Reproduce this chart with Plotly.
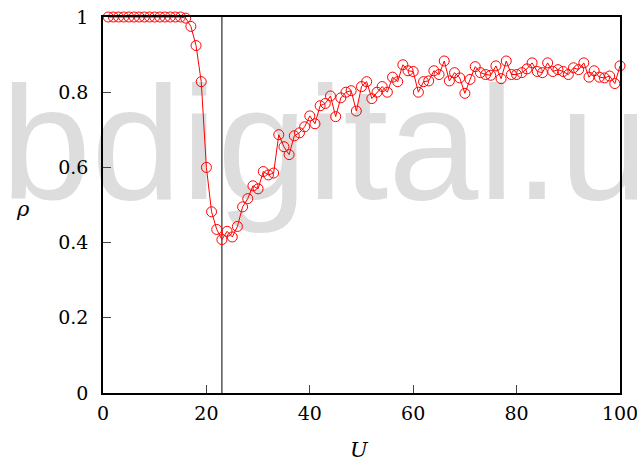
import plotly.graph_objects as go

U = list(range(1, 101))
rho = [1.0]*15 + [
    0.997, 0.975, 0.924, 0.828, 0.600, 0.482, 0.435, 0.408, 0.430, 0.415,
    0.443, 0.495, 0.517, 0.551, 0.543, 0.589, 0.580, 0.585, 0.687, 0.655,
    0.634, 0.684, 0.692, 0.708, 0.737, 0.716, 0.764, 0.770, 0.790, 0.735,
    0.785, 0.800, 0.804, 0.750, 0.815, 0.828, 0.783, 0.800, 0.815, 0.800,
    0.840, 0.828, 0.873, 0.857, 0.855, 0.800, 0.828, 0.830, 0.857, 0.847,
    0.883, 0.830, 0.852, 0.838, 0.797, 0.834, 0.868, 0.852, 0.847, 0.845,
    0.870, 0.836, 0.883, 0.847, 0.847, 0.852, 0.862, 0.878, 0.855, 0.852,
    0.878, 0.855, 0.860, 0.855, 0.847, 0.865, 0.860, 0.878, 0.840, 0.857,
    0.840, 0.838, 0.843, 0.823, 0.870]
vline_x = 23
x_ticks = [0, 20, 40, 60, 80, 100]
y_ticks = [0, 0.2, 0.4, 0.6, 0.8, 1]
y_ticktext = ["0", "0.2", "0.4", "0.6", "0.8", "1"]
watermark = "bdigital.u"

serif = "DejaVu Serif"
sans = "Liberation Sans, Arial, DejaVu Sans, sans-serif"

fig = go.Figure()
fig.add_trace(go.Scatter(
    x=[43.0], y=[0.625], mode="text", text=[watermark],
    textposition="middle center", cliponaxis=False,
    textfont=dict(family=sans, size=162, color="#dddddd"),
    hoverinfo="skip", showlegend=False))
fig.add_trace(go.Scatter(
    x=[vline_x, vline_x], y=[0, 1], mode="lines",
    line=dict(color="black", width=1), hoverinfo="skip", showlegend=False))
fig.add_trace(go.Scatter(
    x=U, y=rho, mode="lines+markers", cliponaxis=False,
    line=dict(color="red", width=1),
    marker=dict(symbol="circle-open", size=10, color="red", line=dict(width=1)),
    showlegend=False))

fig.update_layout(
    width=637, height=462,
    margin=dict(l=103, r=17, t=17, b=69, autoexpand=False),
    paper_bgcolor="white", plot_bgcolor="rgba(0,0,0,0)",
    font=dict(family=serif, size=19, color="black"),
)
fig.update_xaxes(range=[0, 100], tickvals=x_ticks, ticks="inside", ticklen=8,
                 tickwidth=1, showline=True, linecolor="black", linewidth=1.5,
                 mirror=True, showgrid=False, zeroline=False, automargin=False,
                 ticklabelstandoff=2, ticklabeloverflow="allow",
                 tickfont=dict(family=serif, size=19))
fig.update_yaxes(range=[0, 1], tickvals=y_ticks, ticktext=y_ticktext, ticks="inside",
                 ticklen=8, tickwidth=1, showline=True, linecolor="black",
                 linewidth=1.5, mirror=True, showgrid=False, zeroline=False,
                 automargin=False, ticklabelstandoff=9, ticklabeloverflow="allow",
                 tickfont=dict(family=serif, size=19))
fig.add_annotation(text="<i>ρ</i>", xref="paper", yref="paper", x=-0.172, y=0.49,
                   showarrow=False, font=dict(family=serif, size=21))
fig.add_annotation(text="<i>U</i>", xref="paper", yref="paper", x=0.497, y=-0.19,
                   showarrow=False, font=dict(family=serif, size=21))

fig.write_html("out.html")
